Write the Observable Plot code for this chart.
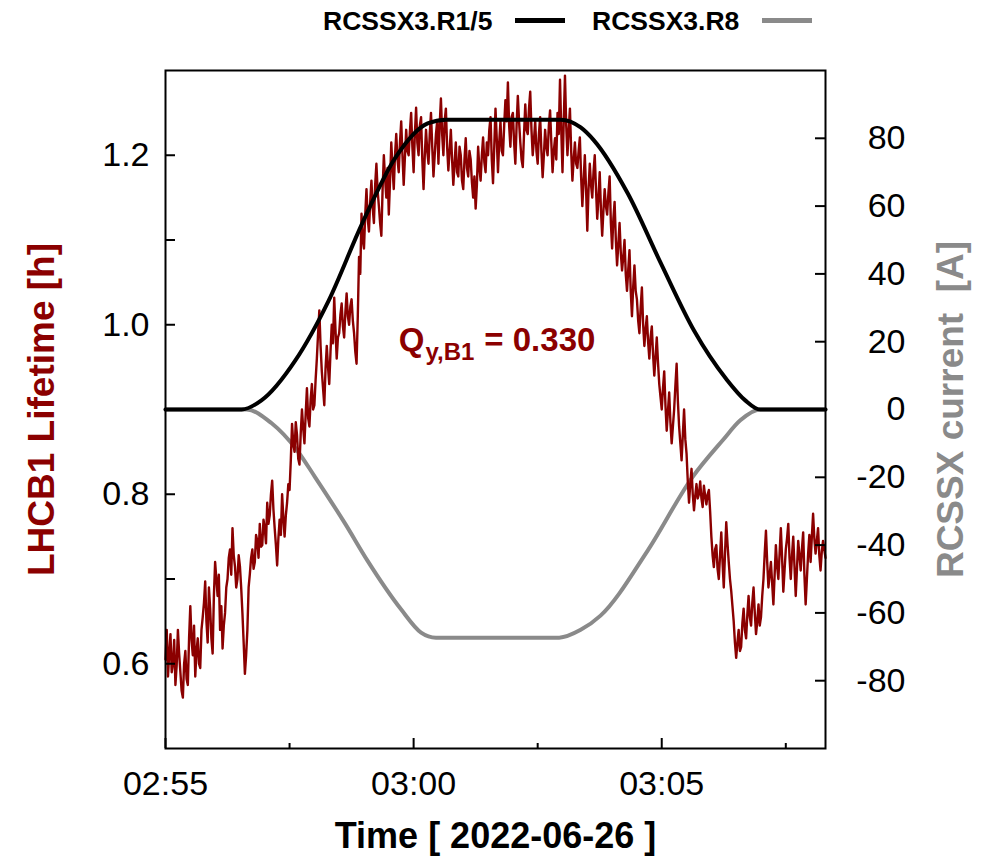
<!DOCTYPE html>
<html>
<head>
<meta charset="utf-8">
<script src="https://cdn.jsdelivr.net/npm/d3@7"></script>
<script src="https://cdn.jsdelivr.net/npm/@observablehq/plot@0.6"></script>
<style>
  body { margin: 0; background: #fff; font-family: "Liberation Sans", Arial, sans-serif; }
  #legend { position: relative; width: 992px; height: 45px; }
  #legend .lab { position: absolute; top: 8px; font: bold 26.5px/1 "Liberation Sans", Arial, sans-serif; color: #000; white-space: nowrap; }
  #legend .swatch { position: absolute; top: 18px; width: 50px; height: 5px; }
  #chart svg { display: block; }
</style>
</head>
<body>
<div id="legend"></div>
<div id="chart"></div>
<script>
// Measurement day and window
const day = "2022-06-26";
const startClock = "02:55:00";
const endClock = "03:08:18";

// LHCB1 beam lifetime [h], one sample every 1.5 s from startClock
const sampleStep = 1.5;
const lifetime = [
  0.605, 0.640, 0.585, 0.612, 0.635, 0.590, 0.600, 0.628, 0.575, 0.598, 0.640, 0.612, 0.590, 0.568, 0.560, 0.600, 0.615, 0.582, 0.575, 0.630,
  0.668, 0.628, 0.610, 0.645, 0.585, 0.615, 0.630, 0.600, 0.595, 0.640, 0.655, 0.672, 0.697, 0.650, 0.625, 0.690, 0.665, 0.630, 0.612, 0.680,
  0.720, 0.700, 0.680, 0.705, 0.640, 0.668, 0.618, 0.645, 0.660, 0.690, 0.700, 0.725, 0.735, 0.705, 0.760, 0.728, 0.715, 0.690, 0.700, 0.728,
  0.715, 0.690, 0.660, 0.625, 0.588, 0.610, 0.640, 0.690, 0.706, 0.725, 0.735, 0.712, 0.720, 0.752, 0.745, 0.725, 0.765, 0.738, 0.740, 0.770,
  0.760, 0.742, 0.790, 0.765, 0.775, 0.800, 0.816, 0.782, 0.760, 0.740, 0.716, 0.748, 0.770, 0.752, 0.800, 0.772, 0.750, 0.775, 0.790, 0.812,
  0.805, 0.840, 0.883, 0.860, 0.850, 0.885, 0.870, 0.842, 0.835, 0.872, 0.900, 0.878, 0.860, 0.895, 0.925, 0.890, 0.880, 0.912, 0.930, 0.900,
  0.905, 0.935, 0.960, 0.990, 1.017, 0.975, 0.945, 0.925, 0.905, 0.948, 0.975, 0.950, 0.930, 0.968, 1.000, 0.978, 1.032, 0.995, 0.960, 0.985,
  0.990, 1.012, 1.025, 0.998, 0.985, 1.015, 1.037, 1.010, 1.000, 1.022, 1.030, 1.005, 0.990, 0.968, 0.954, 1.010, 1.080, 1.060, 1.131, 1.100,
  1.090, 1.130, 1.160, 1.125, 1.110, 1.145, 1.170, 1.138, 1.120, 1.165, 1.190, 1.158, 1.140, 1.120, 1.105, 1.160, 1.200, 1.172, 1.150, 1.185,
  1.130, 1.170, 1.215, 1.185, 1.160, 1.200, 1.225, 1.195, 1.180, 1.215, 1.240, 1.200, 1.165, 1.198, 1.230, 1.205, 1.200, 1.228, 1.250, 1.210,
  1.180, 1.225, 1.256, 1.215, 1.200, 1.235, 1.245, 1.195, 1.160, 1.200, 1.230, 1.205, 1.190, 1.225, 1.250, 1.210, 1.175, 1.200, 1.225, 1.240,
  1.190, 1.235, 1.267, 1.225, 1.200, 1.240, 1.255, 1.210, 1.182, 1.205, 1.230, 1.195, 1.165, 1.190, 1.215, 1.180, 1.175, 1.210, 1.200, 1.170,
  1.160, 1.195, 1.220, 1.185, 1.175, 1.205, 1.195, 1.168, 1.150, 1.175, 1.137, 1.165, 1.210, 1.185, 1.170, 1.200, 1.221, 1.192, 1.180, 1.215,
  1.200, 1.230, 1.245, 1.195, 1.167, 1.210, 1.255, 1.220, 1.180, 1.215, 1.240, 1.205, 1.200, 1.235, 1.265, 1.240, 1.286, 1.235, 1.210, 1.245,
  1.250, 1.215, 1.190, 1.235, 1.270, 1.240, 1.215, 1.195, 1.186, 1.225, 1.260, 1.230, 1.225, 1.255, 1.275, 1.230, 1.200, 1.218, 1.240, 1.205,
  1.190, 1.225, 1.245, 1.205, 1.174, 1.200, 1.230, 1.210, 1.200, 1.235, 1.253, 1.215, 1.180, 1.205, 1.220, 1.195, 1.250, 1.225, 1.289, 1.230,
  1.180, 1.240, 1.294, 1.235, 1.200, 1.230, 1.255, 1.205, 1.170, 1.195, 1.215, 1.190, 1.185, 1.205, 1.221, 1.175, 1.140, 1.170, 1.200, 1.160,
  1.111, 1.160, 1.190, 1.165, 1.150, 1.180, 1.200, 1.160, 1.125, 1.150, 1.180, 1.135, 1.105, 1.135, 1.160, 1.140, 1.130, 1.155, 1.175, 1.120,
  1.090, 1.125, 1.145, 1.100, 1.070, 1.095, 1.120, 1.085, 1.064, 1.080, 1.100, 1.060, 1.040, 1.065, 1.088, 1.040, 1.010, 1.045, 1.070, 1.040,
  1.030, 1.005, 0.990, 1.020, 1.044, 1.000, 0.975, 0.995, 1.010, 0.980, 0.960, 0.985, 0.998, 0.965, 0.940, 0.962, 0.985, 0.955, 0.930, 0.915,
  0.900, 0.925, 0.945, 0.905, 0.875, 0.898, 0.920, 0.885, 0.860, 0.880, 0.900, 0.928, 0.954, 0.910, 0.880, 0.860, 0.840, 0.870, 0.900, 0.865,
  0.848, 0.815, 0.790, 0.812, 0.830, 0.800, 0.781, 0.798, 0.812, 0.795, 0.800, 0.815, 0.795, 0.785, 0.810, 0.798, 0.788, 0.800, 0.805, 0.780,
  0.750, 0.728, 0.714, 0.735, 0.740, 0.712, 0.700, 0.728, 0.755, 0.720, 0.690, 0.730, 0.767, 0.742, 0.720, 0.700, 0.686, 0.668, 0.650, 0.625,
  0.607, 0.625, 0.640, 0.615, 0.620, 0.648, 0.665, 0.640, 0.630, 0.658, 0.680, 0.655, 0.645, 0.672, 0.690, 0.660, 0.635, 0.650, 0.670, 0.645,
  0.655, 0.680, 0.700, 0.730, 0.757, 0.720, 0.690, 0.705, 0.720, 0.695, 0.670, 0.705, 0.740, 0.715, 0.700, 0.730, 0.760, 0.725, 0.685, 0.710,
  0.735, 0.748, 0.765, 0.725, 0.700, 0.728, 0.750, 0.715, 0.680, 0.712, 0.745, 0.728, 0.710, 0.735, 0.755, 0.705, 0.670, 0.700, 0.730, 0.752,
  0.720, 0.750, 0.777, 0.748, 0.730, 0.745, 0.760, 0.728, 0.710, 0.732, 0.745, 0.735, 0.725
];

// RCSSX3 corrector currents [A]: seconds after startClock, current
const r15Seconds = [0, 92, 116, 157, 197, 238, 278, 317, 339, 478, 502, 518, 559, 599, 639, 678, 701, 719, 798];
const r15Current = [0, 0, 2.7, 14.5, 32, 55, 74.3, 84.4, 85.5, 85.5, 83.2, 79.4, 63.7, 43.1, 23.3, 9, 2.7, 0, 0];
const r8Seconds = [0, 98, 128, 159, 181, 217, 244, 285, 309, 327, 476, 502, 526, 583, 637, 674, 695, 719, 798];
const r8Current = [0, 0, -4, -12, -20, -33.6, -44.5, -59, -65.8, -67.3, -67.3, -65, -60.8, -41.6, -20, -9, -3.2, 0, 0];

// Series names and colours
const seriesNames = ["RCSSX3.R1/5", "RCSSX3.R8"];
const seriesColors = ["#000000", "#8a8a8a"];
const lifetimeColor = "#8b0000";

// Axis ticks
const majorTimeTicks = ["02:55:00", "03:00:00", "03:05:00"];
const minorTimeTicks = ["02:57:30", "03:02:30", "03:07:30"];
const lifetimeLabelTicks = [0.6, 0.8, 1.0, 1.2];
const lifetimeTickMarks = [0.6, 0.7, 0.8, 0.9, 1.0, 1.1, 1.2];
const currentTicks = [-80, -60, -40, -20, 0, 20, 40, 60, 80];

// Text
const leftLabel = "LHCB1 Lifetime [h]";
const rightLabel = "RCSSX current  [A]";
const bottomLabel = "Time [ 2022-06-26 ]";
const tune = {main: "Q", sub: "y,B1", value: "= 0.330", seconds: 282, lifetime: 0.981};

// Scales: lifetime domain and the current axis mapped onto it
const lifetimeDomain = [0.5, 1.3];
const currentDomain = [-100, 100];
const currentToLifetime = d3.scaleLinear(currentDomain, lifetimeDomain);

const t0 = Date.parse(`${day}T${startClock}Z`);
const atSeconds = s => new Date(t0 + s * 1000);
const atClock = c => new Date(`${day}T${c}Z`);

const lifeData = lifetime.map((v, i) => ({t: atSeconds(i * sampleStep), v}));
const r15Data = r15Seconds.map((s, i) => ({t: atSeconds(s), v: currentToLifetime(r15Current[i])}));
const r8Data = r8Seconds.map((s, i) => ({t: atSeconds(s), v: currentToLifetime(r8Current[i])}));

// Legend
const legend = document.getElementById("legend");
const legendLabelX = [323, 592];
const legendSwatchX = [515, 762];
seriesNames.forEach((name, i) => {
  const lab = document.createElement("span");
  lab.className = "lab";
  lab.style.left = legendLabelX[i] + "px";
  lab.textContent = name;
  legend.appendChild(lab);
  const sw = document.createElement("span");
  sw.className = "swatch";
  sw.style.left = legendSwatchX[i] + "px";
  sw.style.background = seriesColors[i];
  legend.appendChild(sw);
});

const W = 992, H = 814;
const mL = 165, mR = 167, mT = 25, mB = 111;
const innerW = W - mL - mR, innerH = H - mT - mB;
const tuneString = tune.main + tune.sub + " " + tune.value;

const chart = Plot.plot({
  width: W,
  height: H,
  marginLeft: mL,
  marginRight: mR,
  marginTop: mT,
  marginBottom: mB,
  style: {fontFamily: '"Liberation Sans", Arial, sans-serif', fontSize: "34px", color: "#000", background: "#fff"},
  x: {type: "utc", domain: [atClock(startClock), atClock(endClock)]},
  y: {domain: lifetimeDomain},
  marks: [
    // curves
    Plot.line(r8Data, {x: "t", y: "v", stroke: seriesColors[1], strokeWidth: 4, curve: "monotone-x"}),
    Plot.line(lifeData, {x: "t", y: "v", stroke: lifetimeColor, strokeWidth: 2.4, strokeLinejoin: "round"}),
    Plot.line(r15Data, {x: "t", y: "v", stroke: seriesColors[0], strokeWidth: 4, curve: "monotone-x"}),
    // inward tick marks
    Plot.tickY(lifetimeTickMarks, {y: d => d, stroke: "#000", strokeWidth: 2, insetRight: innerW - 10}),
    Plot.tickY(currentTicks.map(currentToLifetime), {y: d => d, stroke: "#000", strokeWidth: 2, insetLeft: innerW - 10}),
    Plot.tickX(majorTimeTicks.map(atClock), {x: d => d, stroke: "#000", strokeWidth: 2, insetTop: innerH - 10}),
    Plot.tickX(minorTimeTicks.map(atClock), {x: d => d, stroke: "#000", strokeWidth: 2, insetTop: innerH - 5}),
    Plot.frame({stroke: "#000", strokeWidth: 2}),
    // axes
    Plot.axisY(lifetimeLabelTicks, {anchor: "left", tickSize: 0, tickPadding: 16, tickFormat: d3.format(".1f"), label: null}),
    Plot.axisY(currentTicks.map(currentToLifetime), {anchor: "right", tickSize: 0, tickPadding: 80, textAnchor: "end",
      tickFormat: v => String(Math.round(currentToLifetime.invert(v))), label: null}),
    Plot.axisX(majorTimeTicks.map(atClock), {anchor: "bottom", tickSize: 0, tickPadding: 22, tickFormat: d3.utcFormat("%H:%M"), label: null}),
    // axis titles
    Plot.text([leftLabel], {frameAnchor: "left", textAnchor: "middle", dx: -123, rotate: -90, fontSize: 37, fontWeight: "bold", fill: lifetimeColor}),
    Plot.text([rightLabel], {frameAnchor: "right", textAnchor: "middle", dx: 126, rotate: -90, fontSize: 37, fontWeight: "bold", fill: seriesColors[1]}),
    Plot.text([bottomLabel], {frameAnchor: "bottom", dy: 99, fontSize: 36, fontWeight: "bold", fill: "#000"}),
    // tune annotation
    Plot.text([tune], {x: d => atSeconds(d.seconds), y: d => d.lifetime, text: () => tuneString,
      textAnchor: "start", fontSize: 33, fontWeight: "bold", fill: lifetimeColor})
  ]
});
document.getElementById("chart").appendChild(chart);

// Set the tune subscript with tspans
const tuneText = Array.from(chart.querySelectorAll("text")).find(el => el.textContent === tuneString);
if (tuneText) {
  tuneText.textContent = "";
  const ns = "http://www.w3.org/2000/svg";
  const a = document.createElementNS(ns, "tspan");
  a.textContent = tune.main;
  const b = document.createElementNS(ns, "tspan");
  b.textContent = tune.sub;
  b.setAttribute("font-size", "24");
  b.setAttribute("dy", "9");
  b.setAttribute("dx", "1");
  const c = document.createElementNS(ns, "tspan");
  c.textContent = tune.value;
  c.setAttribute("dy", "-9");
  c.setAttribute("dx", "10");
  tuneText.append(a, b, c);
}
</script>
</body>
</html>
